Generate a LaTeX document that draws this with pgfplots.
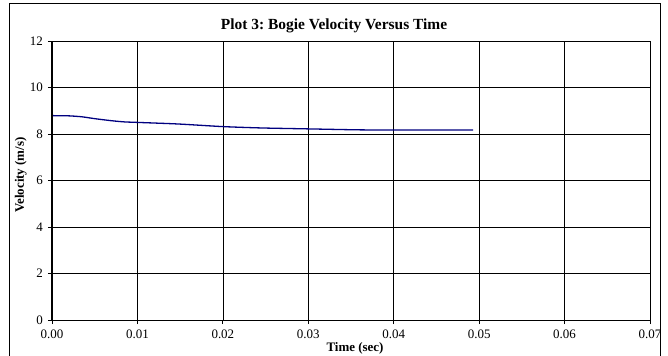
\documentclass[border=0pt]{standalone}
\usepackage{fontspec}
\setmainfont{Liberation Serif}
\usepackage{pgfplots}
\pgfplotsset{compat=1.18}
\frenchspacing

\begin{document}
\begin{tikzpicture}[x=1bp,y=1bp]
% page area and chart frame (the frame runs off the lower edge)
\path[use as bounding box] (-52,-35) rectangle (616,320);
\draw[black, line width=1bp] (-42,-60) rectangle (608,316);

\begin{axis}[
  at={(0,0)}, anchor=south west,
  scale only axis,
  width=598bp, height=279bp,
  xmin=0, xmax=0.07, ymin=0, ymax=12,
  xtick={0,0.01,...,0.07}, ytick={0,2,...,12},
  grid=major,
  major grid style={black, line width=0.7bp},
  axis line style={black, line width=0.9bp},
  tick align=outside,
  major tick length=4bp,
  tick style={black, line width=0.8bp},
  xtick pos=bottom, ytick pos=left,
  /pgf/number format/assume math mode=true,
  x tick label style={/pgf/number format/.cd, fixed, fixed zerofill, precision=2, /tikz/.cd,
    font=\fontsize{13}{13}\selectfont, anchor=base, inner sep=0pt, yshift=-14.5bp},
  y tick label style={font=\fontsize{13}{13}\selectfont, anchor=east, inner sep=0pt, xshift=-5bp},
  scaled x ticks=false,
  clip=false,
]
\addplot[color={rgb,255:red,0;green,0;blue,128}, line width=1.3bp, smooth, tension=0.4] coordinates {
  (0.0000,8.79) (0.0020,8.78) (0.0035,8.74) (0.0050,8.66) (0.0070,8.57)
  (0.0085,8.52) (0.0099,8.50) (0.0148,8.43) (0.0199,8.32) (0.0245,8.26)
  (0.0300,8.22) (0.0357,8.18) (0.0400,8.17) (0.0493,8.17)
};
\draw[black, line width=1.8bp] (axis cs:0,0) -- (axis cs:0,12);
\end{axis}

\node[font=\bfseries\fontsize{15.5}{15.5}\selectfont, anchor=base] at (282,290.7) {Plot 3: Bogie Velocity Versus Time};
\node[font=\bfseries\fontsize{13}{13}\selectfont, anchor=base] at (303,-31) {Time (sec)};
\node[font=\bfseries\fontsize{13}{13}\selectfont, rotate=90, anchor=base] at (-28,145) {Velocity (m/s)};
\end{tikzpicture}
\end{document}
